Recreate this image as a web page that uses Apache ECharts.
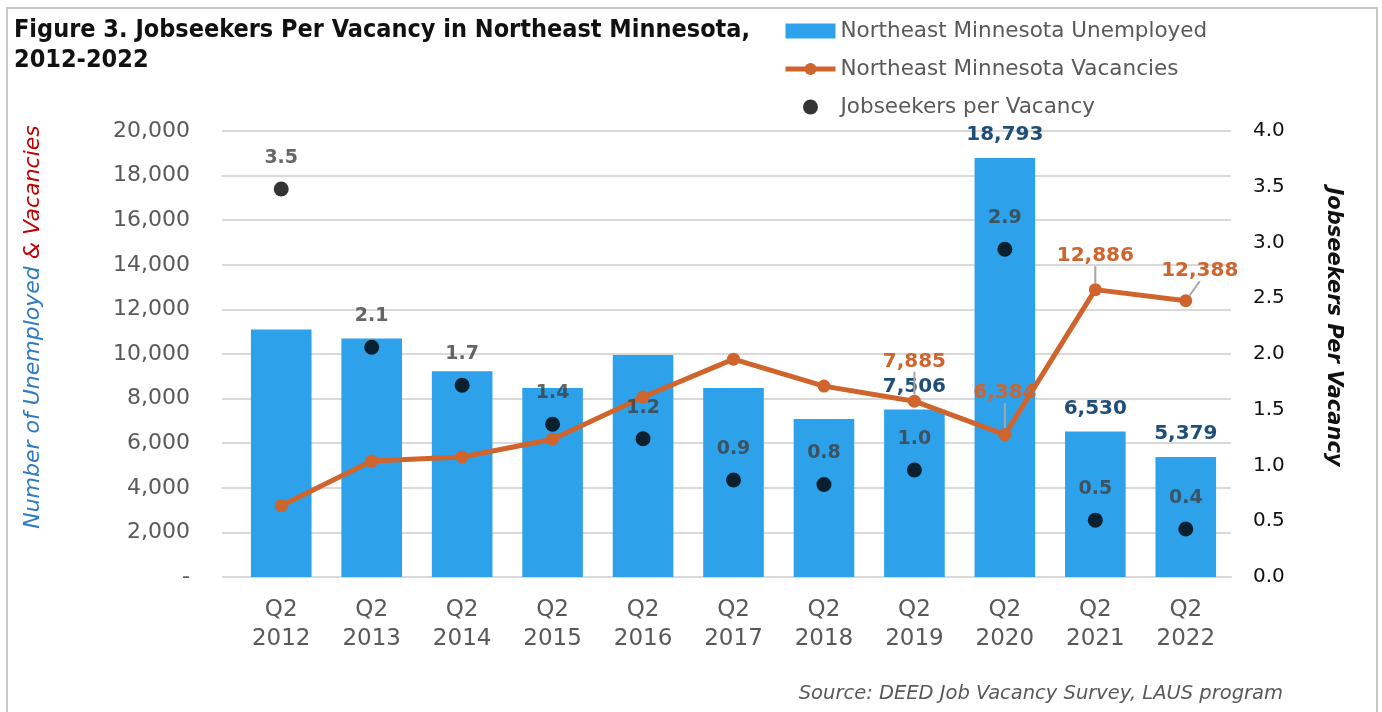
<!DOCTYPE html>
<html><head><meta charset="utf-8">
<script src="https://cdn.jsdelivr.net/npm/echarts@6/dist/echarts.min.js"></script>
<style>html,body{margin:0;padding:0;background:#fff}#c{width:1382px;height:712px}</style>
</head><body><div id="c"></div>
<script>
var categories = ['Q2\n2012','Q2\n2013','Q2\n2014','Q2\n2015','Q2\n2016','Q2\n2017','Q2\n2018','Q2\n2019','Q2\n2020','Q2\n2021','Q2\n2022'];
var unemployed = [11100, 10700, 9230, 8470, 9950, 8470, 7080, 7506, 18793, 6530, 5379];
var vacancies = [3200, 5200, 5380, 6180, 8070, 9770, 8560, 7885, 6384, 12886, 12388];
var jobseekersPerVacancy = [3.48, 2.06, 1.72, 1.37, 1.24, 0.87, 0.83, 0.96, 2.94, 0.51, 0.43];
var leftTicks = {min: 0, max: 20000, interval: 2000};
var rightTicks = {min: 0, max: 4, interval: 0.5};
var labeledFrom = 7; // bars & line labelled from Q2 2019

var FONT = 'DejaVu Sans';
var BLUE = '#2EA1EB', ORANGE = '#CF642C';

var barData = unemployed.map(function(v, i){
  if (i < labeledFrom) return v;
  return {value: v, label: {show: true}};
});
var lineDy = {7: -18, 8: -20, 9: -12, 10: -8};
var lineDx = {10: 14};
var lineData = vacancies.map(function(v, i){
  if (i < labeledFrom) return v;
  return {value: v, label: {show: true}};
});

var chart = echarts.init(document.getElementById('c'));
chart.setOption({
  animation: false,
  textStyle: {fontFamily: FONT},
  title: {
    text: 'Figure 3. Jobseekers Per Vacancy in Northeast Minnesota,\n2012-2022',
    left: 9, top: 10,
    textStyle: {fontFamily: '"DejaVu Sans Condensed", "Liberation Sans"', fontWeight: 'bold', fontSize: 25, lineHeight: 30, color: '#111'}
  },
  legend: {
    orient: 'vertical', left: 778, top: 15, itemWidth: 50, itemHeight: 15, itemGap: 16,
    textStyle: {fontFamily: FONT, fontSize: 21.5, color: '#595959'},
    data: [
      {name: 'Northeast Minnesota Unemployed', icon: 'rect'},
      {name: 'Northeast Minnesota Vacancies', lineStyle: {width: 5, color: ORANGE}},
      {name: 'Jobseekers per Vacancy', icon: 'circle', itemStyle: {color: '#000'}}
    ]
  },
  graphic: [
    {type: 'rect', shape: {x: 7, y: 8, width: 1370, height: 720}, style: {fill: 'none', stroke: '#C8C8C8', lineWidth: 2}, silent: true},
    {type: 'text', right: 99, top: 684, style: {text: 'Source: DEED Job Vacancy Survey, LAUS program', font: 'italic 19.5px "DejaVu Sans"', fill: '#595959'}},
    {type: 'text', x: 33, y: 327, rotation: Math.PI / 2, style: {
      text: '{a|Number of Unemployed }{b|& Vacancies}', align: 'center', verticalAlign: 'middle',
      rich: {
        a: {font: 'italic 22px "DejaVu Sans"', fill: '#2E7BC4'},
        b: {font: 'italic 22px "DejaVu Sans"', fill: '#C00000'}
      }
    }},
    {type: 'text', x: 1333, y: 327, rotation: -Math.PI / 2, style: {
      text: 'Jobseekers Per Vacancy', align: 'center', verticalAlign: 'middle',
      font: 'italic bold 21px "DejaVu Sans"', fill: '#111'
    }}
  ],
  grid: {left: 236, right: 151, top: 131, bottom: 135, containLabel: false},
  xAxis: {
    type: 'category', data: categories,
    axisLine: {lineStyle: {color: '#D9D9D9', width: 2}},
    axisTick: {show: false},
    axisLabel: {fontSize: 23, lineHeight: 29, color: '#595959', margin: 19}
  },
  yAxis: [
    {
      type: 'value', min: leftTicks.min, max: leftTicks.max, interval: leftTicks.interval,
      axisLine: {show: false},
      axisTick: {show: true, length: 14, lineStyle: {color: '#D9D9D9', width: 2}},
      splitLine: {lineStyle: {color: '#D9D9D9', width: 2}},
      axisLabel: {fontSize: 22, color: '#595959', margin: 46, formatter: function(v){ return v === 0 ? '-' : v.toLocaleString('en-US'); }}
    },
    {
      type: 'value', min: rightTicks.min, max: rightTicks.max, interval: rightTicks.interval,
      axisLine: {show: false}, axisTick: {show: false}, splitLine: {show: false},
      axisLabel: {fontSize: 20, color: '#111', margin: 22, formatter: function(v){ return v.toFixed(1); }}
    }
  ],
  series: [
    {
      name: 'Northeast Minnesota Unemployed', type: 'bar', data: barData,
      barWidth: '67%', itemStyle: {color: BLUE},
      label: {show: false, position: 'top', distance: 13, fontSize: 20, fontWeight: 'bold', color: '#1F4E79', formatter: function(p){ return p.value.toLocaleString('en-US'); }},
      z: 2
    },
    {
      name: 'Northeast Minnesota Vacancies', type: 'line', data: lineData,
      lineStyle: {color: ORANGE, width: 5}, itemStyle: {color: ORANGE},
      symbol: 'circle', symbolSize: 13,
      label: {show: false, position: 'top', distance: 5, fontSize: 20, fontWeight: 'bold', color: ORANGE, formatter: function(p){ return p.value.toLocaleString('en-US'); }},
      labelLine: {show: true, lineStyle: {color: '#A6A6A6', width: 2}},
      labelLayout: function(params){
        var i = params.dataIndex;
        return {dx: lineDx[i] || 0, dy: lineDy[i] || 0};
      },
      z: 3
    },
    {
      name: 'Jobseekers per Vacancy', type: 'scatter', yAxisIndex: 1, data: jobseekersPerVacancy,
      symbol: 'circle', symbolSize: 15, itemStyle: {color: '#000'},
      label: {show: true, position: 'top', distance: 14, fontSize: 19, fontWeight: 'bold', color: '#404040', formatter: function(p){ return p.value.toFixed(1); }},
      z: 4
    }
  ]
});
</script></body></html>
